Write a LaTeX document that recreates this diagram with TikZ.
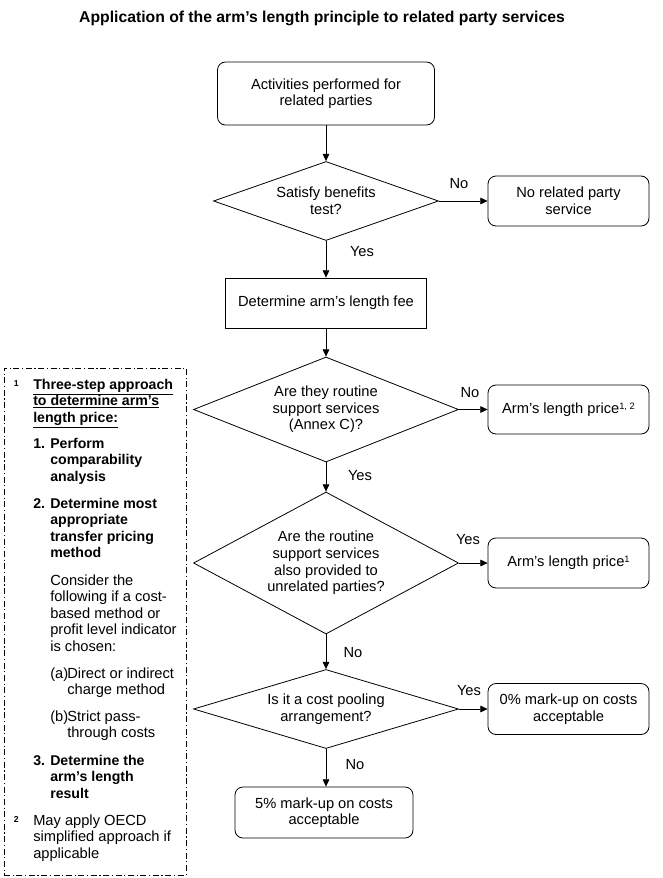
\documentclass[tikz,border=0pt]{standalone}
\usepackage{fontspec}
\setmainfont{Liberation Sans}
\usetikzlibrary{shapes.geometric,arrows.meta}
\newcommand\supmark[1]{{\fontsize{7}{8}\selectfont\raisebox{3.3pt}{#1}}}
\begin{document}
\begin{tikzpicture}[x=0.75pt,y=-0.75pt,
  every node/.style={font=\fontsize{11}{12.4}\selectfont, text=black},
  rbox/.style={draw, rounded corners=6pt, align=center, line width=0.6pt, inner sep=0pt, minimum width=120.75pt, minimum height=37.5pt},
  sbox/.style={draw, align=center, line width=0.6pt, inner sep=0pt},
  dia/.style={draw, diamond, align=center, line width=0.6pt, inner sep=0pt},
  arr/.style={-{Triangle[length=5.5pt,width=5pt]}, line width=0.6pt},
  lbl/.style={inner sep=0pt},
  ln/.style={anchor=base west, inner sep=0pt},
  bln/.style={anchor=base west, inner sep=0pt, font=\fontsize{10.6}{12.4}\selectfont\bfseries},
  supn/.style={anchor=base west, inner sep=0pt, font=\fontsize{6.5}{7}\selectfont\bfseries},
  notebox/.style={draw, line width=0.6pt, dash pattern=on 4.5pt off 2pt on 0.8pt off 2pt, inner sep=0pt},
]
\useasboundingbox (0,0) rectangle (662,878);

% title
\node[font=\fontsize{11.8}{13}\selectfont\bfseries] (title) at (322,18) {Application of the arm’s length principle to related party services};

% main column
\node[rbox, minimum width=162.75pt, minimum height=47.25pt] (A) at (326,93.5) {Activities performed for\\related parties};
\node[dia, aspect=2.85, minimum width=168.75pt, minimum height=59.25pt] (D1) at (326,201) {Satisfy benefits\\test?};
\node[rbox] (N1) at (568.5,201) {No related party\\service};
\node[sbox, minimum width=150.75pt, minimum height=37.5pt] (F) at (326,303) {Determine arm’s length fee};
\node[dia, aspect=2.5, minimum width=198.75pt, minimum height=78.75pt] (D2) at (326,409.5) {Are they routine\\support services\\(Annex C)?};
\node[rbox, minimum height=36.75pt] (P2) at (568.5,409.5) {Arm’s length price\supmark{1, 2}};
\node[dia, aspect=1.87, minimum width=198.75pt, minimum height=106.5pt] (D3) at (326,563) {Are the routine\\support services\\also provided to\\unrelated parties?};
\node[rbox] (P3) at (568.5,563) {Arm’s length price\supmark{1}};
\node[dia, aspect=3.35, minimum width=198.75pt, minimum height=59.25pt] (D4) at (326,709) {Is it a cost pooling\\arrangement?};
\node[rbox, minimum height=38.25pt] (Z) at (568.5,709) {0\% mark-up on costs\\acceptable};
\node[rbox, minimum width=133.5pt, minimum height=38.25pt] (F5) at (324,812.5) {5\% mark-up on costs\\acceptable};

% connectors
\draw[arr] (A) -- (D1);
\draw[arr] (D1) -- (N1);
\draw[arr] (D1) -- (F);
\draw[arr] (F) -- (D2);
\draw[arr] (D2) -- (P2);
\draw[arr] (D2) -- (D3);
\draw[arr] (D3) -- (P3);
\draw[arr] (D3) -- (D4);
\draw[arr] (D4) -- (Z);
\draw[arr] (D4.south) -- (D4.south |- F5.north);

% labels
\node[lbl] (l1) at (459,184) {No};
\node[lbl] (l2) at (362,252) {Yes};
\node[lbl] (l3) at (470,393) {No};
\node[lbl] (l4) at (360,476) {Yes};
\node[lbl] (l5) at (468,540) {Yes};
\node[lbl] (l6) at (353,653) {No};
\node[lbl] (l7) at (469,691) {Yes};
\node[lbl] (l8) at (355,765) {No};

% note box
\node[notebox, minimum width=136.5pt, minimum height=380.25pt] (note) at (95,621.5) {};
\node[supn] (s1) at (13.5,386) {1};
\node[bln] (h1) at (33,389) {\underline{Three-step approach}};
\node[bln] (h2) at (33,405.5) {\underline{to determine arm’s}};
\node[bln] (h3) at (33,422) {\underline{length price:}};
\node[bln] (n1) at (33,448) {1.};
\node[bln] (t1a) at (50,448) {Perform};
\node[bln] (t1b) at (50,464.5) {comparability};
\node[bln] (t1c) at (50,481) {analysis};
\node[bln] (n2) at (33,508) {2.};
\node[bln] (t2a) at (50,508) {Determine most};
\node[bln] (t2b) at (50,524.5) {appropriate};
\node[bln] (t2c) at (50,541) {transfer pricing};
\node[bln] (t2d) at (50,557.5) {method};
\node[ln] (c1) at (50,585) {Consider the};
\node[ln] (c2) at (50,601.5) {following if a cost-};
\node[ln] (c3) at (50,618) {based method or};
\node[ln] (c4) at (50,634.5) {profit level indicator};
\node[ln] (c5) at (50,651) {is chosen:};
\node[ln] (ma) at (50,678) {(a)};
\node[ln] (ma1) at (67,678) {Direct or indirect};
\node[ln] (ma2) at (67,694.5) {charge method};
\node[ln] (mb) at (50,721) {(b)};
\node[ln] (mb1) at (67,721) {Strict pass-};
\node[ln] (mb2) at (67,737.5) {through costs};
\node[bln] (n3) at (33,765) {3.};
\node[bln] (t3a) at (50,765) {Determine the};
\node[bln] (t3b) at (50,781.5) {arm’s length};
\node[bln] (t3c) at (50,798) {result};
\node[supn] (s2) at (13.5,822) {2};
\node[ln] (m1) at (33,825) {May apply OECD};
\node[ln] (m2) at (33,841.5) {simplified approach if};
\node[ln] (m3) at (33,858) {applicable};
\end{tikzpicture}
\end{document}
